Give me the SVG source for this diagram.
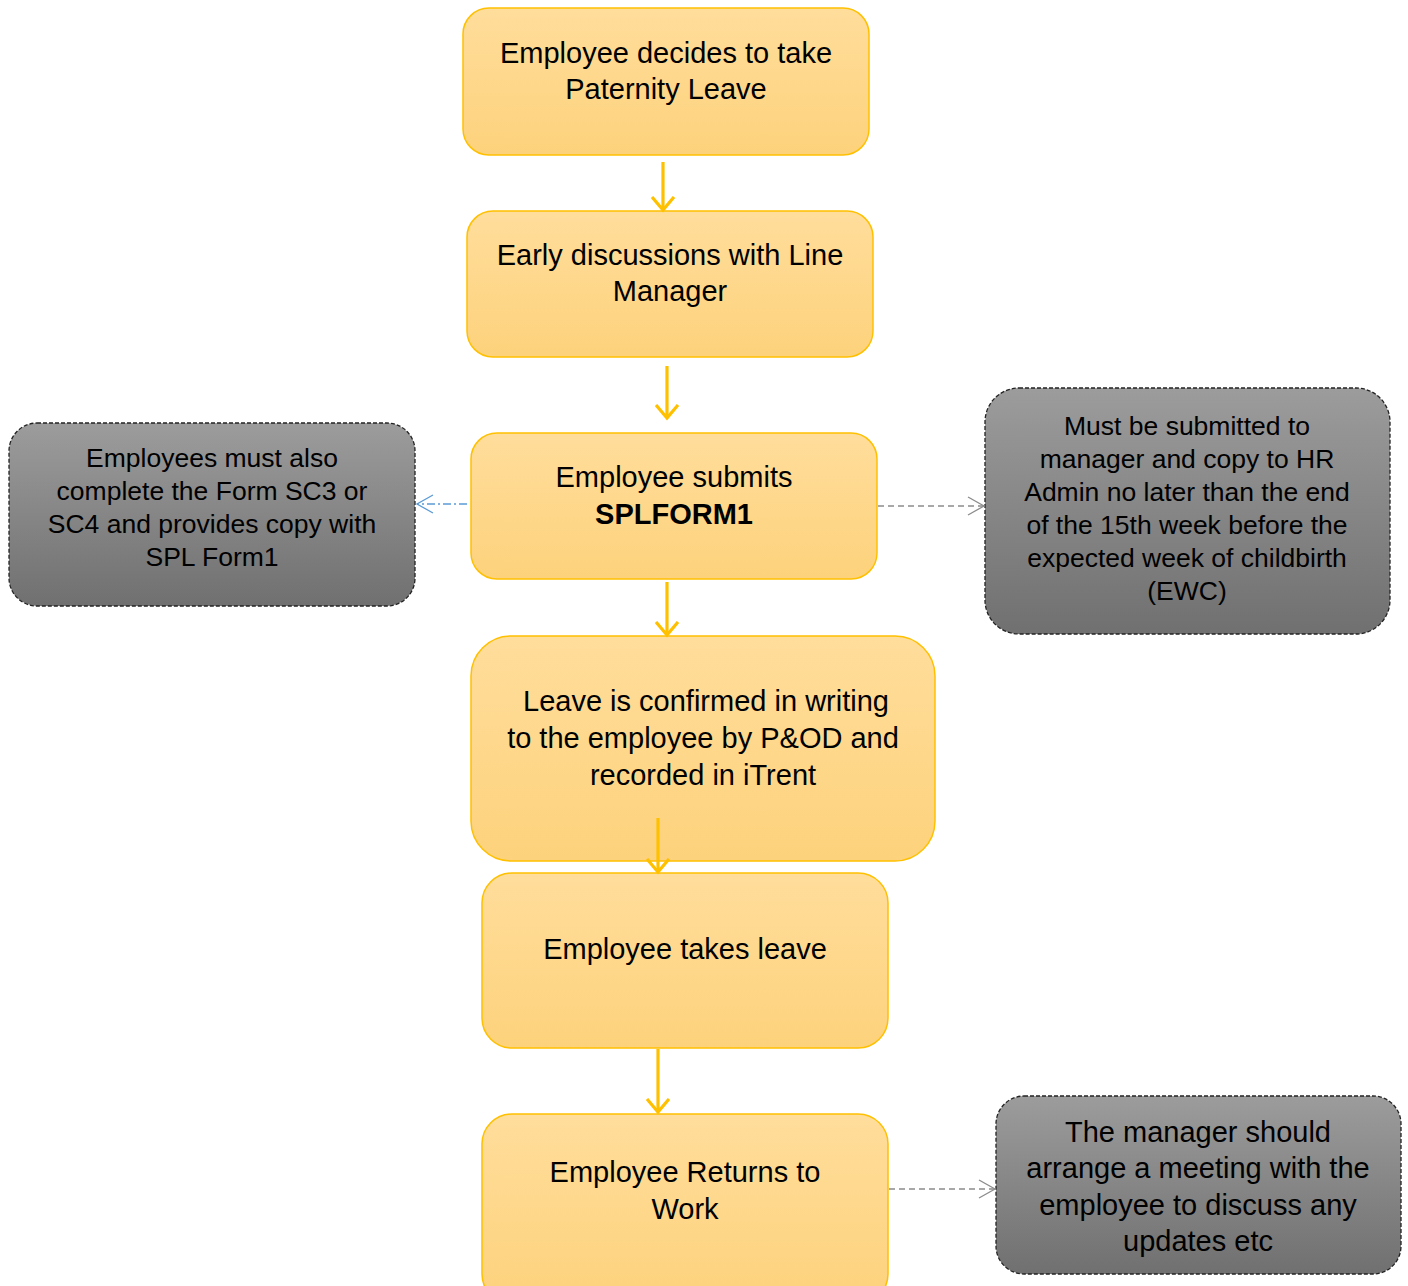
<svg xmlns="http://www.w3.org/2000/svg" width="1408" height="1286" viewBox="0 0 1408 1286">
<defs>
<linearGradient id="gY" x1="0" y1="0" x2="0" y2="1">
<stop offset="0" stop-color="#FFDD9B"/>
<stop offset="1" stop-color="#FDD27C"/>
</linearGradient>
<linearGradient id="gG" x1="0" y1="0" x2="0" y2="1">
<stop offset="0" stop-color="#9C9C9C"/>
<stop offset="1" stop-color="#707070"/>
</linearGradient>
<marker id="aY" markerUnits="userSpaceOnUse" markerWidth="30" markerHeight="30" refX="14" refY="12" orient="auto" viewBox="0 0 30 30">
<polyline points="1,1 14,12 1,23" fill="none" stroke="#FFC000" stroke-width="3.2"/>
</marker>
<marker id="aG" markerUnits="userSpaceOnUse" markerWidth="30" markerHeight="30" refX="17" refY="10" orient="auto" viewBox="0 0 30 30">
<polyline points="1,1 17,10 1,19" fill="none" stroke="#8C8C8C" stroke-width="1.3"/>
</marker>
<marker id="aB" markerUnits="userSpaceOnUse" markerWidth="30" markerHeight="30" refX="17" refY="10" orient="auto" viewBox="0 0 30 30">
<polyline points="1,1 17,10 1,19" fill="none" stroke="#5B9BD5" stroke-width="1.3"/>
</marker>
</defs>
<style>
.y{fill:url(#gY);stroke:#FFC000;stroke-width:1.5}
.g{fill:url(#gG);stroke:#222;stroke-width:1.3;stroke-dasharray:4 2}
text{font-family:"Liberation Sans",Arial,sans-serif;fill:#000;text-anchor:middle}
.t{font-size:29px}
.s{font-size:26.5px}
.b{font-weight:bold}
.cy{stroke:#FFC000;stroke-width:3.2;fill:none;marker-end:url(#aY)}
.cg{stroke:#8C8C8C;stroke-width:1.3;fill:none;stroke-dasharray:6 4;marker-end:url(#aG)}
.cb{stroke:#5B9BD5;stroke-width:1.3;fill:none;stroke-dasharray:8 3 2 3;marker-end:url(#aB)}
</style>
<rect width="1408" height="1286" fill="#fff"/>
<g id="n1">
<rect class="y" x="463" y="8" width="406" height="147" rx="26"/>
<text class="t" x="666" y="63">Employee decides to take</text>
<text class="t" x="666" y="99">Paternity Leave</text>
</g>
<g id="n2">
<rect class="y" x="467" y="211" width="406" height="146" rx="26"/>
<text class="t" x="670" y="265">Early discussions with Line</text>
<text class="t" x="670" y="301">Manager</text>
</g>
<g id="n3">
<rect class="y" x="471" y="433" width="406" height="146" rx="26"/>
<text class="t" x="674" y="487">Employee submits</text>
<text class="t b" x="674" y="524">SPLFORM1</text>
</g>
<g id="n4">
<rect class="y" x="471" y="636" width="464" height="225" rx="40"/>
<text class="t" x="706" y="711">Leave is confirmed in writing</text>
<text class="t" x="703" y="748">to the employee by P&amp;OD and</text>
<text class="t" x="703" y="785">recorded in iTrent</text>
</g>
<g id="n5">
<rect class="y" x="482" y="873" width="406" height="175" rx="30"/>
<text class="t" x="685" y="959">Employee takes leave</text>
</g>
<g id="n6">
<rect class="y" x="482" y="1114" width="406" height="190" rx="30"/>
<text class="t" x="685" y="1182">Employee Returns to</text>
<text class="t" x="685" y="1219">Work</text>
</g>
<g id="n7">
<rect class="g" x="9" y="423" width="406" height="183" rx="28"/>
<text class="s" x="212" y="467">Employees must also</text>
<text class="s" x="212" y="500">complete the Form SC3 or</text>
<text class="s" x="212" y="533">SC4 and provides copy with</text>
<text class="s" x="212" y="566">SPL Form1</text>
</g>
<g id="n8">
<rect class="g" x="985" y="388" width="405" height="246" rx="34"/>
<text class="s" x="1187" y="435">Must be submitted to</text>
<text class="s" x="1187" y="468">manager and copy to HR</text>
<text class="s" x="1187" y="501">Admin no later than the end</text>
<text class="s" x="1187" y="534">of the 15th week before the</text>
<text class="s" x="1187" y="567">expected week of childbirth</text>
<text class="s" x="1187" y="600">(EWC)</text>
</g>
<g id="n9">
<rect class="g" x="996" y="1096" width="405" height="178" rx="28"/>
<text class="t" x="1198" y="1142">The manager should</text>
<text class="t" x="1198" y="1178">arrange a meeting with the</text>
<text class="t" x="1198" y="1215">employee to discuss any</text>
<text class="t" x="1198" y="1251">updates etc</text>
</g>
<g id="connectors">
<line class="cy" x1="663" y1="162" x2="663" y2="210"/>
<line class="cy" x1="667" y1="366" x2="667" y2="418"/>
<line class="cy" x1="667" y1="582" x2="667" y2="635"/>
<line class="cy" x1="658" y1="818" x2="658" y2="872"/>
<line class="cy" x1="658" y1="1049" x2="658" y2="1112"/>
<line class="cb" x1="467" y1="504" x2="417" y2="504"/>
<line class="cg" x1="878" y1="506" x2="984" y2="506"/>
<line class="cg" x1="889" y1="1189" x2="995" y2="1189"/>
</g>
</svg>
